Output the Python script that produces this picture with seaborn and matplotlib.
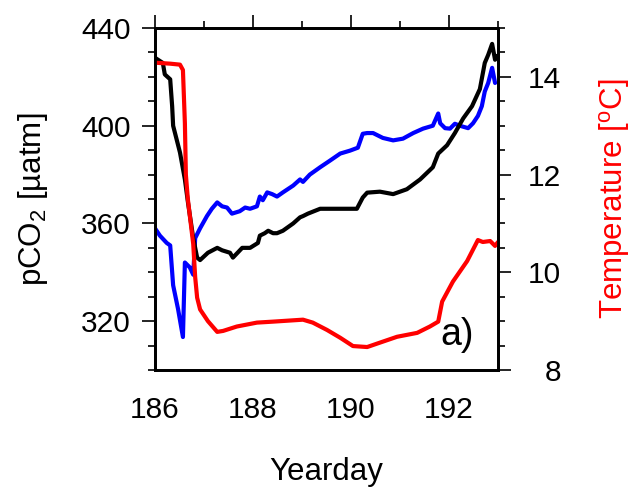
import matplotlib
matplotlib.use("Agg")
import matplotlib.pyplot as plt
from matplotlib.ticker import MultipleLocator
import seaborn as sns

# pCO2 series 1 (black)
day_black = [186.00, 186.16, 186.20, 186.31, 186.35, 186.37, 186.51, 186.61, 186.67,
             186.78, 186.86, 186.92, 187.08, 187.27, 187.37, 187.53, 187.59, 187.78,
             187.94, 188.10, 188.14, 188.24, 188.31, 188.41, 188.49, 188.61, 188.82,
             188.96, 189.02, 189.12, 189.37, 189.71, 190.12, 190.24, 190.33, 190.59,
             190.86, 191.14, 191.41, 191.67, 191.78, 191.96, 192.12, 192.29, 192.47,
             192.63, 192.73, 192.80, 192.88, 192.94, 192.98]
pco2_black = [427.8, 425.7, 421.0, 419.0, 408.0, 400.0, 389.0, 378.0, 369.0,
              354.0, 346.0, 345.0, 348.0, 350.0, 349.0, 348.0, 346.0, 350.0,
              350.0, 352.0, 355.0, 356.0, 357.0, 356.0, 356.0, 357.0, 360.0,
              362.5, 363.0, 364.0, 366.0, 366.0, 366.0, 370.6, 372.6, 373.0,
              372.0, 374.0, 378.0, 383.0, 388.6, 392.0, 397.0, 403.0, 408.0,
              415.0, 425.7, 429.0, 433.5, 427.0, 428.6]

# pCO2 series 2 (blue)
day_blue = [186.00, 186.10, 186.24, 186.31, 186.37, 186.47, 186.57, 186.61, 186.71,
            186.78, 186.82, 186.92, 187.06, 187.16, 187.27, 187.37, 187.47, 187.57,
            187.73, 187.84, 187.94, 188.08, 188.14, 188.20, 188.29, 188.39, 188.49,
            188.61, 188.82, 188.96, 189.02, 189.16, 189.37, 189.57, 189.78, 189.98,
            190.14, 190.24, 190.33, 190.45, 190.65, 190.86, 191.06, 191.27, 191.47,
            191.67, 191.78, 191.82, 191.92, 192.02, 192.12, 192.22, 192.39, 192.49,
            192.59, 192.67, 192.73, 192.80, 192.88, 192.94]
pco2_blue = [358.0, 355.0, 352.0, 351.0, 334.7, 325.0, 313.5, 344.0, 342.0,
             339.0, 354.0, 358.0, 363.0, 366.0, 368.6, 367.0, 366.5, 364.0,
             365.0, 366.5, 366.0, 367.0, 371.0, 369.5, 372.7, 372.0, 371.0,
             372.7, 375.5, 378.0, 377.0, 380.0, 383.0, 385.7, 388.6, 389.8,
             391.0, 396.7, 397.0, 397.0, 395.0, 394.0, 394.7, 397.0, 398.8,
             400.0, 405.0, 401.0, 399.0, 398.8, 400.8, 400.0, 399.0, 401.0,
             404.0, 408.0, 414.0, 417.5, 423.7, 417.5]

# temperature (red, right axis)
day_temp = [186.00, 186.31, 186.51, 186.57, 186.61, 186.63, 186.67, 186.78, 186.82,
            186.86, 186.92, 187.08, 187.27, 187.39, 187.67, 188.08, 188.41, 189.02,
            189.22, 189.51, 189.78, 190.04, 190.33, 190.59, 190.94, 191.35, 191.61,
            191.78, 191.86, 192.08, 192.37, 192.59, 192.69, 192.84, 192.94, 193.00]
temp = [14.29, 14.27, 14.25, 14.14, 13.05, 12.00, 11.50, 10.58, 9.90,
        9.48, 9.24, 9.00, 8.78, 8.80, 8.89, 8.97, 8.99, 9.03,
        8.97, 8.82, 8.66, 8.49, 8.47, 8.56, 8.68, 8.76, 8.89,
        8.99, 9.40, 9.81, 10.23, 10.66, 10.62, 10.64, 10.54, 10.62]

sns.set_style("white")
plt.rcParams['font.family'] = ['Liberation Sans', 'DejaVu Sans']
plt.rcParams['mathtext.fontset'] = 'custom'
plt.rcParams['mathtext.rm'] = 'Liberation Sans'
plt.rcParams['mathtext.it'] = 'Liberation Sans:italic'
plt.rcParams['text.color'] = 'black'
plt.rcParams['axes.labelcolor'] = 'black'
plt.rcParams['xtick.color'] = 'black'
plt.rcParams['ytick.color'] = 'black'

fig = plt.figure(figsize=(6.36, 4.98), dpi=100)
ax = fig.add_axes([155 / 636, 1 - 370 / 498, 343 / 636, 342 / 498])
ax2 = ax.twinx()

sns.lineplot(x=day_blue, y=pco2_blue, ax=ax, color="blue", linewidth=3, estimator=None, sort=False)
sns.lineplot(x=day_black, y=pco2_black, ax=ax, color="black", linewidth=3, estimator=None, sort=False)
sns.lineplot(x=day_temp, y=temp, ax=ax2, color="red", linewidth=3, estimator=None, sort=False)

ax.set_xlim(186, 193)
ax.set_ylim(300, 440)
ax2.set_ylim(8, 15)

ax.xaxis.set_major_locator(MultipleLocator(2))
ax.xaxis.set_minor_locator(MultipleLocator(1))
ax.yaxis.set_major_locator(MultipleLocator(40))
ax.yaxis.set_minor_locator(MultipleLocator(10))
ax2.yaxis.set_major_locator(MultipleLocator(2))
ax2.yaxis.set_minor_locator(MultipleLocator(0.5))

ax.tick_params(which='both', direction='out', top=True, right=False, width=1.2, labelsize=21.5)
ax.tick_params(which='major', length=9.5)
ax.tick_params(which='minor', length=5)
ax.tick_params(axis='x', which='major', pad=9)
ax.tick_params(axis='y', which='major', pad=8)
ax2.tick_params(which='both', direction='out', width=1.2, labelsize=21.5)
ax2.tick_params(which='major', length=9.5, pad=36)
ax2.tick_params(which='minor', length=5)
for lbl in ax2.get_yticklabels():
    lbl.set_horizontalalignment('right')

for a in (ax, ax2):
    for sp in a.spines.values():
        sp.set_linewidth(2)
        sp.set_color("black")

ax.set_xlabel("Yearday", fontsize=22.5, labelpad=24)
ax.set_ylabel(r"pCO$_\mathrm{2}$ [µatm]", fontsize=22.5, labelpad=22)
ax2.set_ylabel(r"Temperature [$^\mathrm{o}$C]", fontsize=22.5, color="red", labelpad=26)

ax.text(0.831, 0.073, "a)", transform=ax.transAxes, fontsize=27, ha="left", va="baseline")

plt.savefig("out.png", dpi=100)
